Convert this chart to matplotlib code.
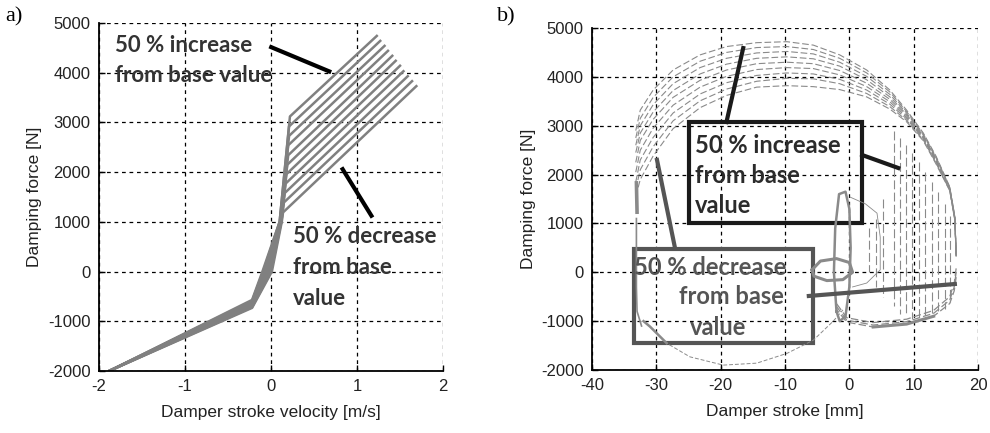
import matplotlib
matplotlib.use("Agg")
import matplotlib.pyplot as plt
from matplotlib.patches import Rectangle

plt.rcParams["axes.unicode_minus"] = False

# ---------------- data: panel a) force-velocity ----------------
rebound_start_v = -1.87
rebound_start_f = -1990
rebound_knee_v = -0.22
rebound_knee_f = [-570, -590, -600, -620, -640, -650, -670, -690, -700, -715, -730]
zero_v = [-0.10, -0.09, -0.08, -0.07, -0.06, -0.05, -0.04, -0.03, -0.02, 0.0, 0.01]
mid_v = [0.10, 0.10, 0.105, 0.105, 0.11, 0.11, 0.115, 0.115, 0.12, 0.12, 0.125]
mid_f = 1000
knee_v = [0.22, 0.21, 0.21, 0.20, 0.20, 0.19, 0.18, 0.17, 0.16, 0.15, 0.14]
knee_f = [3120, 2920, 2730, 2540, 2340, 2150, 1960, 1770, 1580, 1390, 1190]
end_v = [1.23, 1.27, 1.32, 1.36, 1.41, 1.45, 1.50, 1.54, 1.59, 1.64, 1.69]
end_f = [4740, 4640, 4540, 4440, 4340, 4240, 4140, 4030, 3930, 3830, 3730]

# ---------------- data: panel b) force-stroke loops ----------------
top_x = [-33.2, -32.5, -30.5, -27.4, -23.2, -19.1, -14.4, -9.7, -5.6, -1.5,
         2.7, 6.3, 8.9, 11.5, 13.5, 15.6, 16.4, 16.6]
top_f = [
    [2900, 3320, 3730, 4140, 4450, 4620, 4700, 4720, 4650, 4450, 4140, 3730, 3320, 2850, 2370, 1750, 1140, 390],
    [2750, 3150, 3580, 4000, 4320, 4500, 4600, 4620, 4560, 4380, 4080, 3690, 3290, 2830, 2350, 1740, 1130, 380],
    [2600, 3000, 3430, 3860, 4190, 4380, 4490, 4520, 4470, 4300, 4010, 3640, 3260, 2810, 2330, 1730, 1120, 370],
    [2450, 2850, 3280, 3720, 4060, 4260, 4380, 4410, 4370, 4220, 3940, 3590, 3230, 2790, 2310, 1720, 1110, 360],
    [2250, 2700, 3130, 3580, 3930, 4140, 4270, 4300, 4270, 4130, 3870, 3540, 3200, 2770, 2290, 1710, 1100, 350],
    [2050, 2500, 2950, 3420, 3790, 4010, 4150, 4190, 4170, 4040, 3800, 3490, 3170, 2750, 2270, 1700, 1090, 340],
    [1850, 2300, 2760, 3260, 3650, 3880, 4030, 4080, 4060, 3950, 3730, 3440, 3140, 2730, 2250, 1690, 1080, 330],
    [1700, 2100, 2570, 3100, 3510, 3750, 3910, 3970, 3960, 3860, 3660, 3390, 3110, 2710, 2230, 1680, 1070, 320],
    [1550, 1900, 2380, 2940, 3370, 3620, 3790, 3820, 3800, 3740, 3590, 3340, 3080, 2690, 2210, 1670, 1060, 310],
]
drop_x = [3.0, 4.2, 5.3, 6.9, 7.8, 8.8, 9.8, 10.8, 11.8, 12.8, 13.8, 14.8, 15.7]
drop_top = [900, 1100, 1500, 2900, 2750, 2600, 2450, 2250, 2050, 1850, 1650, 1400, 1150]
drop_bot = [0, -300, -500, -700, -850, -900, -950, -950, -950, -900, -850, -750, -600]
br_x = [16.6, 16.3, 15.6, 13.1, 8.9, 3.7, -0.4, -2.0]
br_f = [
    [0, -300, -570, -840, -1010, -1080, -980, -700],
    [-100, -380, -640, -900, -1060, -1120, -1020, -760],
    [80, -220, -500, -780, -960, -1030, -930, -640],
]
bl_x = [-32.0, -31.0, -28.4, -24.8, -19.6, -14.4, -9.7, -5.6, -2.5, -1.0]
bl_f = [-1000, -1110, -1450, -1730, -1900, -1860, -1660, -1390, -1000, -770]
lv_x = [-33.1, -33.1, -33.0, -32.3]
lv_f = [1100, -300, -800, -1100]
lv_blob_x = [-33.1, -33.0]
lv_blob_f = [1830, 1230]
inner_x = [-2.0, -2.4, -2.2, -1.6, -0.6, 0.0, 0.2, 0.0, -0.6, -1.5, -2.0]
inner_f = [-800, 0, 900, 1600, 1650, 1300, 500, -300, -900, -1000, -800]
inner2_x = [0.1, 2.5, 4.3, 4.8, 4.8, 2.7, 0.5]
inner2_f = [1540, 1400, 1210, 720, 50, -220, -300]
ell_x = [-5.8, -4.5, -2.0, 0.0, 0.5, -1.0, -3.5, -5.5, -5.8]
ell_f = [50, 230, 280, 200, 0, -150, -170, -80, 50]

# ---------------- figure ----------------
fig = plt.figure(figsize=(9.9, 4.33), dpi=100)
ax1 = fig.add_axes([0.1, 0.1432, 0.3475, 0.8037])
ax2 = fig.add_axes([0.598, 0.1455, 0.3899, 0.7898])

tick_font = dict(family="Liberation Sans", size=12, color="#222222")
ann_family = "Lato"
gray = "#808080"

for ax in (ax1, ax2):
    ax.set_axisbelow(True)
    ax.grid(True, color="black", linestyle=(0, (3, 3)), linewidth=0.9)
    for s in ("top", "right"):
        ax.spines[s].set_visible(False)
    for s in ("left", "bottom"):
        ax.spines[s].set_linewidth(1.3)
    ax.tick_params(direction="in", length=4, width=1, pad=6)

# panel a
for i in range(len(knee_f)):
    v = [rebound_start_v, rebound_knee_v, zero_v[i], mid_v[i], knee_v[i], end_v[i]]
    f = [rebound_start_f, rebound_knee_f[i], 0, mid_f, knee_f[i], end_f[i]]
    ax1.plot(v, f, color=gray, lw=1.8, solid_joinstyle="round")
ax1.set_xlim(-2, 2)
ax1.set_ylim(-2000, 5000)
ax1.set_xticks([-2, -1, 0, 1, 2])
ax1.set_yticks(range(-2000, 5001, 1000))

# panel b
dash = (0, (6, 2.5))
for fk in top_f:
    ax2.plot(top_x, fk, color="#8a8a8a", lw=0.8, linestyle=dash)
for x, t, b in zip(drop_x, drop_top, drop_bot):
    ax2.plot([x, x], [t, b], color="#8a8a8a", lw=0.8, linestyle=(0, (8, 3)))
for fk in br_f:
    ax2.plot(br_x, fk, color="#8a8a8a", lw=0.9, linestyle=dash)
ax2.plot(br_x[3:6], br_f[1][3:6], color="#8a8a8a", lw=2.2)
ax2.plot(bl_x, bl_f, color="#8a8a8a", lw=0.7, linestyle=(0, (4, 2)))
ax2.plot(bl_x[:3], bl_f[:3], color="#8a8a8a", lw=1.8)
ax2.plot(lv_x, lv_f, color="#8a8a8a", lw=1.2)
ax2.plot(lv_blob_x, lv_blob_f, color="#8a8a8a", lw=2.6)
ax2.plot(inner_x, inner_f, color="#8a8a8a", lw=1.8)
ax2.plot(inner2_x, inner2_f, color="#8a8a8a", lw=0.6)
ax2.plot(ell_x, ell_f, color="#8a8a8a", lw=2.2)
ax2.set_xlim(-40, 20)
ax2.set_ylim(-2000, 5000)
ax2.set_xticks(range(-40, 21, 10))
ax2.set_yticks(range(-2000, 5001, 1000))

for ax in (ax1, ax2):
    for lbl in ax.get_xticklabels() + ax.get_yticklabels():
        lbl.set_fontfamily(tick_font["family"])
        lbl.set_fontsize(tick_font["size"])
        lbl.set_color(tick_font["color"])
    ax.set_ylabel("Damping force [N]", family="Liberation Sans", size=12.5, color="#222222", labelpad=4)

ax1.set_xlabel("Damper stroke velocity [m/s]", family="Liberation Sans", size=12.5, color="#222222", labelpad=8)
ax2.set_xlabel("Damper stroke [mm]", family="Liberation Sans", size=12.5, color="#222222", labelpad=8)

# annotations panel a
ann = dict(family=ann_family, weight="bold", size=16, color="#333333", va="center")
ax1.text(-1.814, 4556, "50 % increase", ha="left", **ann)
ax1.text(-1.814, 3951, "from base value", ha="left", **ann)
ax1.text(0.253, 703, "50 % decrease", ha="left", **ann)
ax1.text(0.253, 78, "from base", ha="left", **ann)
ax1.text(0.253, -547, "value", ha="left", **ann)
ax1.plot([-0.02, 0.70], [4530, 4010], color="black", lw=3, solid_capstyle="butt")
ax1.plot([0.82, 1.18], [2095, 1087], color="black", lw=3, solid_capstyle="butt")

# annotations panel b
ann2 = dict(family=ann_family, weight="bold", size=17, color="#2b2b2b", va="center")
ax2.add_patch(Rectangle((-25, 1009), 27, 2067, fill=False, edgecolor="#1a1a1a", lw=3))
ax2.text(-24.0, 2605, "50 % increase", ha="left", **ann2)
ax2.text(-24.0, 1991, "from base", ha="left", **ann2)
ax2.text(-24.0, 1377, "value", ha="left", **ann2)
ax2.plot([-19.1, -16.5], [3076, 4590], color="#1a1a1a", lw=3)
ax2.plot([2.0, 7.6], [2400, 2135], color="#1a1a1a", lw=3)

ann3 = dict(ann2)
ann3["color"] = "#555555"
ax2.add_patch(Rectangle((-33.5, -1447), 27.85, 1924, fill=False, edgecolor="#555555", lw=3))
ax2.text(-21.7, 108, "50 % decrease", ha="center", **ann3)
ax2.text(-18.4, -505, "from base", ha="center", **ann3)
ax2.text(-20.4, -1140, "value", ha="center", **ann3)
ax2.plot([-27.1, -29.9], [497, 2300], color="#555555", lw=3)
ax2.plot([-6.3, 16.4], [-485, -240], color="#555555", lw=3)

fig.text(5 / 990, 1 - 17 / 433, "a)", family="Liberation Serif", size=16, va="center", ha="left")
fig.text(497 / 990, 1 - 17 / 433, "b)", family="Liberation Serif", size=16, va="center", ha="left")

fig.savefig("out.png", dpi=100)
